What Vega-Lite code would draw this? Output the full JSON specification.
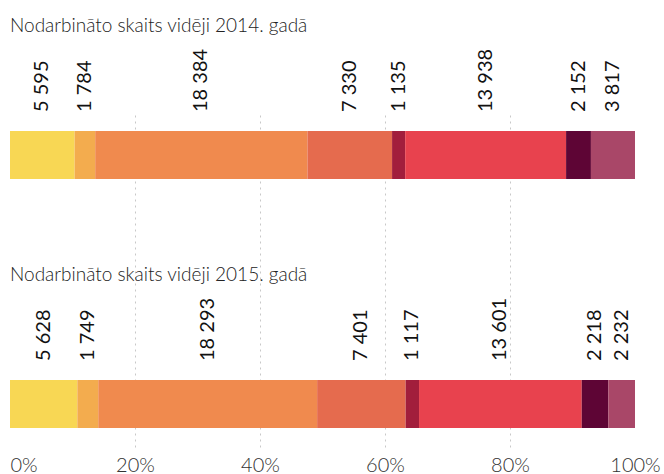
{
  "$schema": "https://vega.github.io/schema/vega-lite/v6.json",
  "autosize": {"type": "none"},
  "width": 625,
  "height": 335,
  "padding": {"left": 10, "top": 112, "right": 29, "bottom": 27},
  "background": "white",
  "config": {
    "view": {"stroke": null},
    "locale": {"number": {"decimal": ",", "thousands": " ", "grouping": [3], "currency": ["", " €"]}}
  },
  "datasets": {
    "jobs": [
      {"year": "2014", "cat": 1, "value": 5595},
      {"year": "2014", "cat": 2, "value": 1784},
      {"year": "2014", "cat": 3, "value": 18384},
      {"year": "2014", "cat": 4, "value": 7330},
      {"year": "2014", "cat": 5, "value": 1135},
      {"year": "2014", "cat": 6, "value": 13938},
      {"year": "2014", "cat": 7, "value": 2152},
      {"year": "2014", "cat": 8, "value": 3817},
      {"year": "2015", "cat": 1, "value": 5628},
      {"year": "2015", "cat": 2, "value": 1749},
      {"year": "2015", "cat": 3, "value": 18293},
      {"year": "2015", "cat": 4, "value": 7401},
      {"year": "2015", "cat": 5, "value": 1117},
      {"year": "2015", "cat": 6, "value": 13601},
      {"year": "2015", "cat": 7, "value": 2218},
      {"year": "2015", "cat": 8, "value": 2232}
    ],
    "titles": [
      {"year": "2014", "title": "Nodarbināto skaits vidēji 2014. gadā"},
      {"year": "2015", "title": "Nodarbināto skaits vidēji 2015. gadā"}
    ]
  },
  "layer": [
    {
      "data": {"name": "jobs"},
      "transform": [
        {"stack": "value", "groupby": ["year"], "sort": [{"field": "cat", "order": "ascending"}], "as": ["x0", "x1"], "offset": "normalize"}
      ],
      "mark": {"type": "bar"},
      "encoding": {
        "y": {"field": "year", "type": "nominal", "axis": null,
              "scale": {"domain": ["2014", "2015"], "paddingInner": 0.807, "paddingOuter": 0.0762}},
        "x": {"field": "x0", "type": "quantitative",
              "scale": {"domain": [0, 1], "nice": false},
              "axis": {"values": [0, 0.2, 0.4, 0.6, 0.8, 1], "format": "%", "title": null,
                       "domain": false, "ticks": false, "grid": true,
                       "gridDash": [2, 4], "gridColor": "#c8c8c8",
                       "gridOpacity": {"condition": {"test": "datum.value == 0 || datum.value == 1", "value": 0}, "value": 1},
                       "labelFont": "Lato", "labelFontWeight": 300, "labelFontSize": 20, "labelColor": "#333", "labelPadding": 8,
                       "labelAlign": {"condition": {"test": "datum.value == 0", "value": "left"}, "value": "center"}}},
        "x2": {"field": "x1"},
        "color": {"field": "cat", "type": "nominal", "legend": null,
                  "scale": {"domain": [1, 2, 3, 4, 5, 6, 7, 8],
                            "range": ["#F8D754", "#F3AC4E", "#F08A4E", "#E56B4E", "#A21E3C", "#E8424E", "#5E0535", "#A94768"]}}
      }
    },
    {
      "data": {"name": "jobs"},
      "transform": [
        {"stack": "value", "groupby": ["year"], "sort": [{"field": "cat", "order": "ascending"}], "as": ["x0", "x1"], "offset": "normalize"},
        {"calculate": "(datum.x0 + datum.x1) / 2", "as": "mid"}
      ],
      "mark": {"type": "text", "angle": 270, "align": "left", "baseline": "middle", "yOffset": -43,
               "font": "Lato", "fontWeight": 400, "fontSize": 20, "color": "#111"},
      "encoding": {
        "y": {"field": "year", "type": "nominal"},
        "x": {"field": "mid", "type": "quantitative"},
        "text": {"field": "value", "type": "quantitative", "format": ","}
      }
    },
    {
      "data": {"name": "titles"},
      "mark": {"type": "text", "align": "left", "baseline": "alphabetic", "yOffset": -123,
               "font": "Lato", "fontWeight": 300, "fontSize": 19, "color": "#222"},
      "encoding": {
        "y": {"field": "year", "type": "nominal"},
        "x": {"datum": 0, "type": "quantitative"},
        "text": {"field": "title", "type": "nominal"}
      }
    }
  ]
}
